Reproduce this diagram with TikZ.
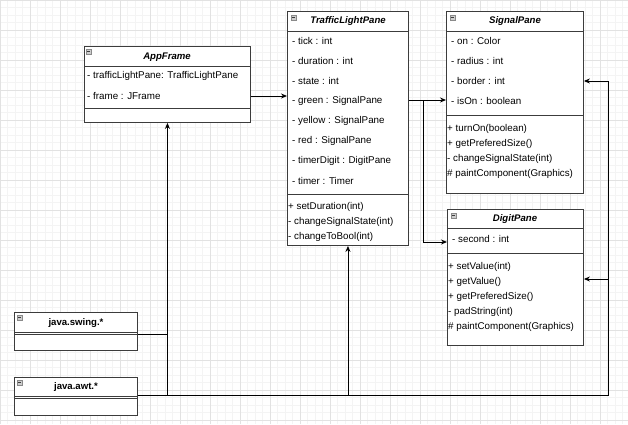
\documentclass[tikz,border=0pt]{standalone}
\usepackage{fontspec}
\setmainfont{Liberation Sans}
\usetikzlibrary{arrows.meta}
\definecolor{boxline}{RGB}{60,60,60}
\definecolor{gridminor}{RGB}{244,244,244}
\definecolor{gridmajor}{RGB}{226,226,226}
\definecolor{icongray}{RGB}{205,205,205}

\tikzset{
  classbox/.style={draw=boxline, line width=0.9pt, fill=white, anchor=north west, inner sep=0pt},
  classtitle/.style={font=\fontsize{9.6}{11}\selectfont\bfseries\itshape},
  pkgtitle/.style={font=\fontsize{9.6}{11}\selectfont\bfseries},
  member/.style={anchor=west, inner sep=0pt, font=\fontsize{9.8}{11}\selectfont},
  divider/.style={draw=boxline, line width=0.9pt},
  link/.style={draw=black, line width=0.9pt},
  tip/.style={-{Stealth[length=6pt,width=5pt]}},
  collapse/.pic={
    \draw[boxline!60, fill=icongray, line width=0.5pt] (0,0) rectangle (5,5);
    \draw[boxline, line width=0.5pt] (1,2.5) -- (4,2.5);
  }
}

\begin{document}
\begin{tikzpicture}[x=1pt, y=-1pt]
\useasboundingbox (0,0) rectangle (628,424);

% background grid
\fill[white] (0,0) rectangle (628,424);
\draw[gridminor, line width=0.5pt, step=7.5pt] (0,0) grid (628,424);
\draw[gridmajor, line width=0.5pt, step=30pt] (0,0) grid (628,424);

% AppFrame
\node[classbox, minimum width=166pt, minimum height=76pt] (app) at (84,46) {};
\pic at (86,49) {collapse};
\node[classtitle] (app-title) at (167,57) {AppFrame};
\draw[divider] (84,66) -- (250,66);
\draw[divider] (84,108) -- (250,108);
\foreach \t [count=\i] in {- trafficLightPane: TrafficLightPane, - frame : JFrame}
  \node[member] (app-\i) at (87,{56+20*\i}) {\t};

% TrafficLightPane
\node[classbox, minimum width=121pt, minimum height=234pt] (tlp) at (287,11) {};
\pic at (291,15) {collapse};
\node[classtitle] (tlp-title) at (348,21) {TrafficLightPane};
\draw[divider] (287,31) -- (408,31);
\draw[divider] (287,194) -- (408,194);
\foreach \t [count=\i] in {- tick : int, - duration : int, - state : int,
    - green : SignalPane, - yellow : SignalPane, - red : SignalPane,
    - timerDigit : DigitPane, - timer : Timer}
  \node[member] (tlp-\i) at (292,{21+20*\i}) {\t};
\foreach \t [count=\i] in {+ setDuration(int), - changeSignalState(int), - changeToBool(int)}
  \node[member] (tlp-m\i) at (288,{192+15*\i}) {\t};

% SignalPane
\node[classbox, minimum width=137pt, minimum height=182pt] (sig) at (446,11) {};
\pic at (450,15) {collapse};
\node[classtitle] (sig-title) at (515,21) {SignalPane};
\draw[divider] (446,31) -- (583,31);
\draw[divider] (446,115) -- (583,115);
\foreach \t [count=\i] in {- on : Color, - radius : int, - border : int, - isOn : boolean}
  \node[member] (sig-\i) at (451,{21+20*\i}) {\t};
\foreach \t [count=\i] in {+ turnOn(boolean), + getPreferedSize(), - changeSignalState(int),
    \# paintComponent(Graphics)}
  \node[member] (sig-m\i) at (447,{114+15*\i}) {\t};

% DigitPane
\node[classbox, minimum width=136pt, minimum height=136pt] (dig) at (447,209) {};
\pic at (451,213) {collapse};
\node[classtitle] (dig-title) at (515,219) {DigitPane};
\draw[divider] (447,228) -- (583,228);
\draw[divider] (447,253) -- (583,253);
\node[member] (dig-1) at (452,239) {- second : int};
\foreach \t [count=\i] in {+ setValue(int), + getValue(), + getPreferedSize(), - padString(int),
    \# paintComponent(Graphics)}
  \node[member] (dig-m\i) at (448,{252+15*\i}) {\t};

% java.swing.*
\node[classbox, minimum width=123pt, minimum height=38pt] (swing) at (14,312) {};
\pic at (17,315) {collapse};
\node[pkgtitle] (swing-title) at (76,323) {java.swing.*};
\draw[divider] (14,332) -- (137,332);
\draw[divider] (14,334.5) -- (137,334.5);

% java.awt.*
\node[classbox, minimum width=123pt, minimum height=38pt] (awt) at (14,377) {};
\pic at (17,380) {collapse};
\node[pkgtitle] (awt-title) at (76,387) {java.awt.*};
\draw[divider] (14,396) -- (137,396);
\draw[divider] (14,398.5) -- (137,398.5);

% connectors
\coordinate (bus) at (608,395);
\draw[link, tip] (app.east |- app-2) -- (tlp.west |- app-2);
\draw[link, tip] (tlp.east |- 0,100) -- (sig.west |- 0,100);
\draw[link, tip] (423,100) |- (dig.west |- 0,242);
\draw[link] (swing.east |- 0,334) -- (app.south |- 0,334);
\draw[link, tip] (awt.east |- bus) -| (app.south);
\draw[link, tip] (tlp.south |- bus) -- (tlp.south);
\draw[link, tip] (awt.east |- bus) -| (bus |- sig-3) -- (sig.east |- sig-3);
\draw[link, tip] (bus |- 0,279) -- (dig.east |- 0,279);
\end{tikzpicture}
\end{document}
